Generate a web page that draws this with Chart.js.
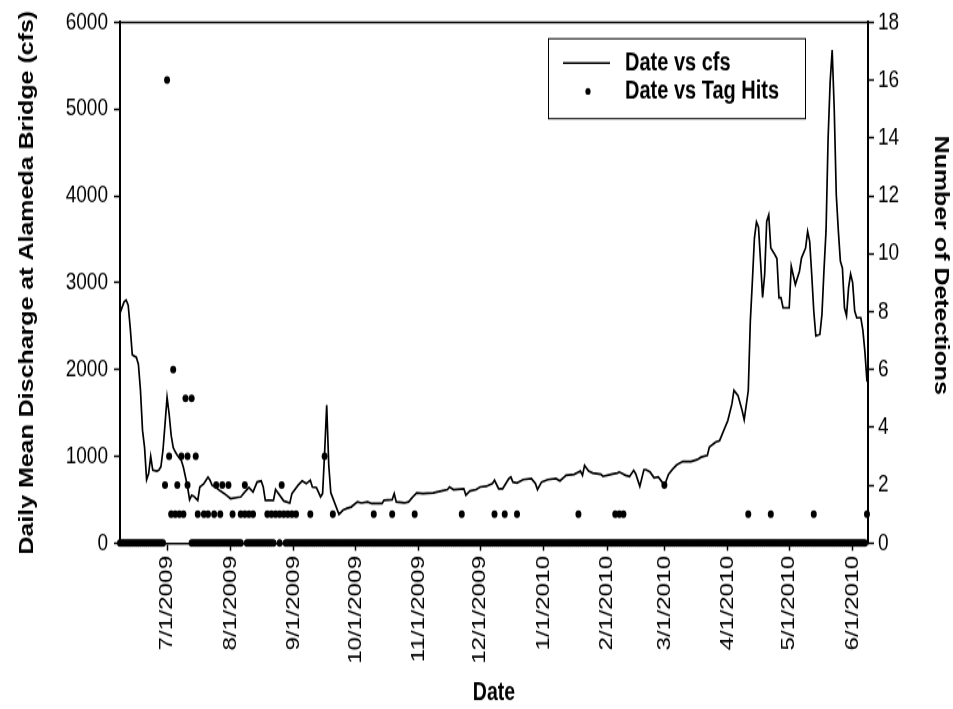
<!DOCTYPE html>
<html>
<head>
<meta charset="utf-8">
<script src="https://cdn.jsdelivr.net/npm/chart.js@4.4.1/dist/chart.umd.min.js"></script>
<style>
  html, body { margin: 0; padding: 0; background: #ffffff; overflow: hidden; }
  #wrap { position: absolute; left: 0; top: 0; width: 953px; height: 709px; }
  #c { position: absolute; left: 0; top: 0; transform-origin: 0 0; transform: scaleY(1.2798); }
</style>
</head>
<body>
<div id="wrap"><canvas id="c" width="953" height="554"></canvas></div>
<script>
// ---- Data (day 0 = 6/8/2009) ----
const startDate = [2009, 6, 8];

const cfsDays = [0,2,3,4,5,6,8,9,10,11,12,13,14,15,16,18,19,20,21,22,23,24,25,26,27,28,30,31,32,33,34,35,36,38,39,41,43,44,45,47,49,51,54,57,59,61,63,65,67,69,70,71,75,76,78,80,83,84,87,89,91,93,94,96,98,99,100,101,102,103,105,107,109,111,113,116,118,121,123,128,129,133,134,135,139,141,143,145,148,153,157,160,161,163,168,169,171,174,176,179,182,183,185,187,190,191,192,194,197,201,203,204,206,209,213,215,218,222,225,226,227,229,231,235,236,240,243,244,247,249,251,252,254,256,257,259,261,263,265,266,268,270,272,275,279,282,284,287,288,291,293,295,297,299,300,302,304,305,307,308,309,310,311,312,313,314,315,316,317,318,320,321,322,323,324,327,328,330,332,333,335,336,337,338,339,340,342,343,344,345,346,347,348,349,350,351,352,353,354,355,356,357,358,359,360,362,363,364,365];
const cfsValues = [2650,2780,2800,2740,2480,2170,2140,2060,1760,1300,1100,730,800,1000,840,830,840,880,1070,1370,1680,1490,1240,1100,1050,1010,950,870,760,650,500,550,540,493,646,685,760,723,665,639,600,570,513,524,531,588,639,588,703,715,646,493,493,616,551,485,462,570,665,715,685,723,646,639,531,570,1050,1590,900,580,455,330,380,400,416,474,462,474,455,455,493,501,570,474,462,474,531,577,570,577,600,616,646,616,627,551,600,616,646,654,685,723,627,627,742,760,703,692,731,742,685,616,703,731,742,715,780,791,829,780,895,829,806,791,768,791,806,818,780,768,837,799,654,845,845,818,753,760,700,660,790,850,900,940,940,960,990,1009,1105,1162,1181,1296,1411,1602,1760,1698,1526,1420,1755,2558,3017,3513,3700,3640,3246,2830,3093,3705,3780,3399,3323,3277,2825,2825,2710,2710,3189,2979,3131,3284,3399,3590,3476,3093,2673,2386,2405,2635,3150,3600,4660,5311,5680,5000,4011,3600,3246,3169,2710,2620,2940,3100,3000,2673,2596,2596,2450,2200,1860];

// Days with non-zero tag hits
const hitDays   = [22,23,24,25,26,27,28,29,30,31,32,33,33,35,37,38,41,43,46,47,49,50,53,55,59,61,61,63,65,72,74,76,78,79,80,82,84,86,93,100,104,124,133,144,167,183,188,194,224,242,244,246,266,307,318,339,365];
const hitCounts = [2,16,3,1,6,1,2,1,3,1,5,2,3,5,3,1,1,1,1,2,1,2,2,1,1,2,1,1,1,1,1,1,1,2,1,1,1,1,1,3,1,1,1,1,1,1,1,1,1,1,1,1,2,1,1,1,1];
// Runs of consecutive days plotted at zero detections [first day, last day]
const zeroRuns = [[0,21],[35,59],[62,75],[78,78],[81,364]];

const tickLabels = ["7/1/2009","8/1/2009","9/1/2009","10/1/2009","11/1/2009","12/1/2009","1/1/2010","2/1/2010","3/1/2010","4/1/2010","5/1/2010","6/1/2010"];

// ---- Build structures ----
function dayOf(label) {
  const p = label.split('/').map(Number);
  return Math.round((Date.UTC(p[2], p[0]-1, p[1]) - Date.UTC(startDate[0], startDate[1]-1, startDate[2])) / 86400000);
}
const tickDays = tickLabels.map(dayOf);

const cfsPoints = cfsDays.map((d, i) => ({x: d, y: cfsValues[i]}));
const hitPoints = [];
zeroRuns.forEach(r => { for (let d = r[0]; d <= r[1]; d++) hitPoints.push({x: d, y: 0}); });
hitDays.forEach((d, i) => hitPoints.push({x: d, y: hitCounts[i]}));

const FONT = "'Liberation Sans', Arial, sans-serif";

const framePlugin = {
  id: 'frame',
  afterDraw(chart) {
    const {ctx, chartArea: a} = chart;
    ctx.save();
    ctx.strokeStyle = '#000';
    ctx.lineWidth = 1.5;
    ctx.beginPath();
    ctx.moveTo(a.left - 1, a.top);
    ctx.lineTo(a.right + 1, a.top);
    ctx.stroke();

    // legend box
    const bx = 548, by = 29.7, bw = 257, bh = 62.5;
    ctx.fillStyle = '#fff';
    ctx.fillRect(bx, by, bw, bh);
    ctx.lineWidth = 1;
    ctx.strokeStyle = '#000';
    ctx.strokeRect(bx + 0.5, by + 0.5, bw, bh);
    ctx.lineWidth = 1.5;
    ctx.beginPath();
    ctx.moveTo(563, 49.2);
    ctx.lineTo(610, 49.2);
    ctx.stroke();
    ctx.fillStyle = '#000';
    ctx.beginPath();
    ctx.arc(588, 71.4, 2.6, 0, Math.PI * 2);
    ctx.fill();
    ctx.font = 'bold 20px ' + FONT;
    ctx.textBaseline = 'middle';
    ctx.textAlign = 'left';
    ctx.fillText(chart.data.datasets[0].label, 625, 49.2);
    ctx.fillText(chart.data.datasets[1].label, 625, 71.4);
    ctx.restore();
  }
};

new Chart(document.getElementById('c'), {
  data: {
    datasets: [
      {
        type: 'line',
        label: 'Date vs cfs',
        data: cfsPoints,
        yAxisID: 'y',
        borderColor: '#000',
        borderWidth: 1.7,
        pointRadius: 0,
        tension: 0,
        fill: false,
        order: 1
      },
      {
        type: 'scatter',
        label: 'Date vs Tag Hits',
        data: hitPoints,
        yAxisID: 'y2',
        backgroundColor: '#000',
        borderColor: '#000',
        borderWidth: 0,
        pointRadius: 3,
        clip: false,
        order: 0
      }
    ]
  },
  options: {
    responsive: false,
    animation: false,
    events: [],
    layout: { padding: { top: 15.6, left: 0, right: 0, bottom: 0 } },
    plugins: { legend: { display: false }, tooltip: { enabled: false } },
    scales: {
      x: {
        type: 'linear',
        position: 'bottom',
        min: 0,
        max: 365.5,
        afterBuildTicks(scale) { scale.ticks = tickDays.map(v => ({value: v})); },
        afterFit(scale) { scale.height = 129.7; },
        ticks: {
          autoSkip: false,
          maxRotation: 90,
          minRotation: 90,
          padding: 4,
          color: '#000',
          font: { family: FONT, size: 19 },
          callback: (v, i) => tickLabels[i]
        },
        grid: { drawOnChartArea: false, drawTicks: true, tickLength: 6, tickColor: '#000', tickWidth: 1.5 },
        border: { color: '#000', width: 1.5 },
        title: { display: true, text: 'Date', color: '#000', font: { family: FONT, size: 19.5, weight: 'bold' }, padding: { top: 0, bottom: 1 } }
      },
      y: {
        type: 'linear',
        position: 'left',
        min: 0,
        max: 6000,
        afterFit(scale) { scale.width = 120; },
        ticks: { stepSize: 1000, padding: 6, color: '#000', font: { family: FONT, size: 19 }, callback: v => String(v) },
        grid: { drawOnChartArea: false, drawTicks: true, tickLength: 6, tickColor: '#000', tickWidth: 1.5 },
        border: { color: '#000', width: 2 },
        title: { display: true, text: 'Daily Mean Discharge at Alameda Bridge (cfs)', color: '#000', font: { family: FONT, size: 19.5, weight: 'bold' }, padding: { top: 16, bottom: 0 } }
      },
      y2: {
        type: 'linear',
        position: 'right',
        min: 0,
        max: 18,
        afterFit(scale) { scale.width = 85; },
        ticks: { stepSize: 2, padding: 4, color: '#000', font: { family: FONT, size: 19 }, callback: v => String(v) },
        grid: { drawOnChartArea: false, drawTicks: true, tickLength: 6, tickColor: '#000', tickWidth: 1.5 },
        border: { color: '#000', width: 2 },
        title: { display: true, text: 'Number of Detections\u00a0\u00a0\u00a0\u00a0\u00a0', color: '#000', font: { family: FONT, size: 19.5, weight: 'bold' }, padding: { top: 1, bottom: 0 } }
      }
    }
  },
  plugins: [framePlugin]
});
</script>
</body>
</html>
